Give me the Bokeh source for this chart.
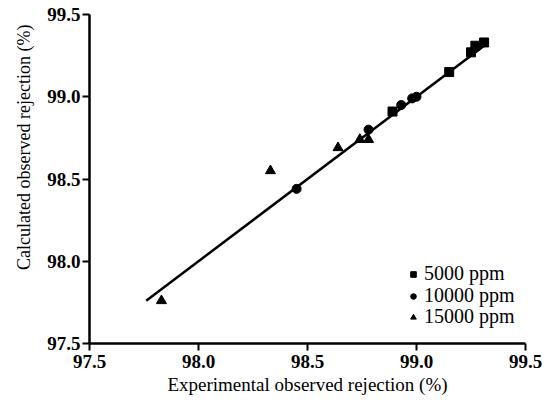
from bokeh.plotting import figure
from bokeh.models import FixedTicker, Legend, LegendItem, Title, NumeralTickFormatter
from bokeh.embed import file_html
from bokeh.resources import INLINE

# Experimental vs calculated observed rejection (%) for three feed concentrations
exp_5000 = [98.89, 99.15, 99.25, 99.27, 99.31]
calc_5000 = [98.91, 99.15, 99.27, 99.31, 99.33]

exp_10000 = [98.45, 98.78, 98.93, 98.98, 99.00]
calc_10000 = [98.44, 98.80, 98.95, 98.99, 99.00]

exp_15000 = [97.83, 98.33, 98.64, 98.74, 98.78]
calc_15000 = [97.76, 98.55, 98.69, 98.74, 98.74]

series_labels = ["5000 ppm", "10000 ppm", "15000 ppm"]

# Parity line
fit_x = [97.76, 99.33]
fit_y = [97.76, 99.33]

ticks = [97.5, 98.0, 98.5, 99.0, 99.5]
tick_labels = ["97.5", "98.0", "98.5", "99.0", "99.5"]

FONT = "Liberation Serif"

p = figure(width=550, height=408, x_range=(97.5, 99.5), y_range=(97.5, 99.5),
           output_backend="svg", toolbar_location=None,
           min_border_left=88, min_border_right=25,
           min_border_top=14, min_border_bottom=65)
p.outline_line_color = None
p.xgrid.visible = False
p.ygrid.visible = False
p.background_fill_color = "white"

for ax in (p.xaxis[0], p.yaxis[0]):
    ax.ticker = FixedTicker(ticks=ticks)
    ax.axis_line_width = 2.5
    ax.axis_line_color = "black"
    ax.major_tick_line_width = 2
    ax.major_tick_line_color = "black"
    ax.major_tick_out = 7
    ax.major_tick_in = 0
    ax.minor_tick_line_color = None
    ax.major_label_text_font = FONT
    ax.major_label_text_font_size = "19px"
    ax.major_label_text_font_style = "bold"
    ax.major_label_text_color = "black"

p.xaxis.major_label_overrides = {t: l for t, l in zip(ticks, tick_labels)}
p.yaxis.formatter = NumeralTickFormatter(format="0.0")
p.xaxis.major_label_standoff = 4
p.yaxis.major_label_standoff = 2

p.xaxis.axis_label = "Experimental observed rejection (%)"
p.xaxis.axis_label_text_font = FONT
p.xaxis.axis_label_text_font_size = "19px"
p.xaxis.axis_label_text_font_style = "normal"
p.xaxis.axis_label_text_color = "black"
p.xaxis.axis_label_standoff = 3

# Vertical axis title, anchored near the top of the frame
ytitle = Title(text="Calculated observed rejection (%)", align="right",
               offset=10, standoff=22, text_font=FONT,
               text_font_size="18px", text_font_style="normal",
               text_color="black")
p.add_layout(ytitle, "left")

p.line(fit_x, fit_y, line_color="black", line_width=2.5)

r1 = p.scatter(exp_5000, calc_5000, marker="square", size=9,
               fill_color="black", line_color="black")
r2 = p.scatter(exp_10000, calc_10000, marker="circle", size=9,
               fill_color="black", line_color="black")
r3 = p.scatter(exp_15000, calc_15000, marker="triangle", size=10,
               fill_color="black", line_color="black")

# One single-entry legend per series, stacked with tight row spacing
for lab, rend, y in zip(series_labels, [r1, r2, r3], [58, 36, 15]):
    lg = Legend(items=[LegendItem(label=lab, renderers=[rend])],
                location=(317, y), padding=0, margin=0, spacing=0,
                glyph_width=14, glyph_height=18, label_height=18,
                label_standoff=4, border_line_color=None,
                background_fill_alpha=0,
                label_text_font=FONT, label_text_font_size="20px",
                label_text_color="black")
    p.add_layout(lg, "center")

open("out.html", "w").write(file_html(p, INLINE))
